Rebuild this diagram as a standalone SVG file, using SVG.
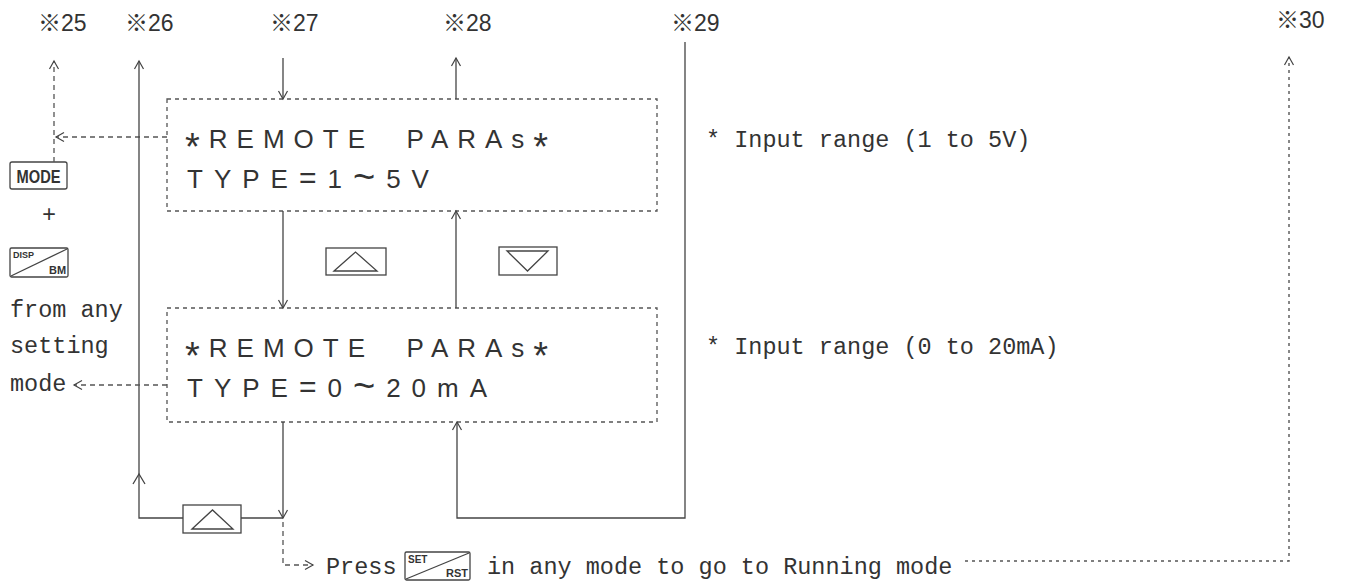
<svg xmlns="http://www.w3.org/2000/svg" width="1349" height="583" viewBox="0 0 1349 583">
<defs>
<style>
.lbl{font-family:"Liberation Sans","Noto Sans CJK JP",sans-serif;font-size:23px;fill:#333}
.lcd{font-family:"Liberation Sans",sans-serif;font-size:26px;fill:#333;letter-spacing:9px}
.lcd2{font-family:"Liberation Sans",sans-serif;font-size:26px;fill:#333;letter-spacing:11px}
.big{font-size:38px}
.eq{font-size:30px}
.mono{font-family:"Liberation Mono",monospace;font-size:23.5px;fill:#333}
.key{fill:none;stroke:#444;stroke-width:1.3}
.keyt{font-family:"Liberation Sans",sans-serif;font-weight:bold;fill:#333}
.box{fill:none;stroke:#555;stroke-width:1.3;stroke-dasharray:4,4}
.solid{fill:none;stroke:#444;stroke-width:1.3}
.dash{fill:none;stroke:#555;stroke-width:1.3;stroke-dasharray:5,4}
.dot{fill:none;stroke:#555;stroke-width:1.4;stroke-dasharray:3,4}
</style>
<marker id="ah" viewBox="-10 -6 12 12" markerWidth="12" markerHeight="12" refX="0" refY="0" orient="auto" markerUnits="userSpaceOnUse">
<path d="M-8,-4.5 L0,0 L-8,4.5" fill="none" stroke="#444" stroke-width="1.2"/>
</marker>
</defs>
<rect width="1349" height="583" fill="#fff"/>

<g id="labels">
<text class="lbl" x="38" y="31">※25</text>
<text class="lbl" x="125" y="31">※26</text>
<text class="lbl" x="270" y="31">※27</text>
<text class="lbl" x="443" y="31">※28</text>
<text class="lbl" x="671" y="31">※29</text>
<text class="lbl" x="1276" y="28">※30</text>
</g>

<g id="box1">
<rect class="box" x="167" y="99" width="490" height="112"/>
<text class="lcd" x="185" y="148" xml:space="preserve"><tspan class="big" dy="12">*</tspan><tspan dy="-12">REMOTE  PARAs</tspan><tspan class="big" dy="12">*</tspan></text>
<text class="lcd2" x="187" y="188">TYPE<tspan class="eq">=</tspan>1<tspan class="big" dy="2">~</tspan><tspan dy="-2">5V</tspan></text>
</g>
<g id="box2">
<rect class="box" x="167" y="308" width="490" height="114"/>
<text class="lcd" x="185" y="357" xml:space="preserve"><tspan class="big" dy="12">*</tspan><tspan dy="-12">REMOTE  PARAs</tspan><tspan class="big" dy="12">*</tspan></text>
<text class="lcd2" x="187" y="397">TYPE<tspan class="eq">=</tspan>0<tspan class="big" dy="2">~</tspan><tspan dy="-2">20mA</tspan></text>
</g>

<g id="note1"><text class="mono" x="706" y="147">* Input range (1 to 5V)</text></g>
<g id="note2"><text class="mono" x="706" y="354">* Input range (0 to 20mA)</text></g>

<g id="key-mode">
<rect class="key" x="10" y="162" width="57" height="27" rx="2"/>
<text class="keyt" x="38.5" y="183" font-size="18" text-anchor="middle" textLength="44" lengthAdjust="spacingAndGlyphs">MODE</text>
</g>
<g id="plus"><text class="mono" x="42" y="222" font-size="28">+</text></g>
<g id="key-disp">
<rect class="key" x="10" y="248" width="58" height="29" rx="1.5"/>
<line class="key" x1="11" y1="276" x2="67" y2="249"/>
<text class="keyt" x="13" y="258" font-size="9">DISP</text>
<text class="keyt" x="49" y="274" font-size="11">BM</text>
</g>
<g id="from-text">
<text class="mono" x="10" y="317">from any</text>
<text class="mono" x="10" y="353">setting</text>
<text class="mono" x="10" y="391">mode</text>
</g>

<g id="btn-up1">
<rect class="key" x="326" y="248" width="60" height="27"/>
<path class="key" d="M334,271 L355.5,252 L377,271 Z"/>
</g>
<g id="btn-down">
<rect class="key" x="499" y="247" width="58" height="28"/>
<path class="key" d="M507,251 L548,251 L527.5,271 Z"/>
</g>
<g id="btn-up2">
<rect class="key" x="183" y="505" width="58" height="28"/>
<path class="key" d="M192,529 L212.5,510 L233,529 Z"/>
</g>

<g id="bottom-text">
<text class="mono" x="326" y="574">Press</text>
<g id="key-set">
<rect class="key" x="405" y="552" width="65" height="28" rx="1.5"/>
<line class="key" x1="406" y1="579" x2="469" y2="553"/>
<text class="keyt" x="408" y="563" font-size="10">SET</text>
<text class="keyt" x="446" y="577" font-size="11">RST</text>
</g>
<text class="mono" x="487" y="574">in any mode to go to Running mode</text>
</g>

<g id="connectors">
<path class="dash" d="M54,162 L54,61" marker-end="url(#ah)"/>
<path class="dash" d="M167,137 L56,137" marker-end="url(#ah)"/>
<path class="solid" d="M183,518 L139,518 L139,61" marker-end="url(#ah)"/>
<path class="solid" d="M133,484 L139,474 L145,484"/>
<path class="solid" d="M283,422 L283,518" marker-end="url(#ah)"/>
<path class="solid" d="M241,518 L283,518"/>
<path class="solid" d="M283,58 L283,99" marker-end="url(#ah)"/>
<path class="solid" d="M456,99 L456,58" marker-end="url(#ah)"/>
<path class="solid" d="M283,211 L283,308" marker-end="url(#ah)"/>
<path class="solid" d="M456,308 L456,211" marker-end="url(#ah)"/>
<path class="solid" d="M685,42 L685,518 L457,518 L457,422" marker-end="url(#ah)"/>
<path class="dash" d="M167,385 L74,385" marker-end="url(#ah)"/>
<path class="dash" d="M283,522 L283,565 L313,565" marker-end="url(#ah)"/>
<path class="dot" d="M965,561 L1289,561 L1289,57" marker-end="url(#ah)"/>
</g>
</svg>
